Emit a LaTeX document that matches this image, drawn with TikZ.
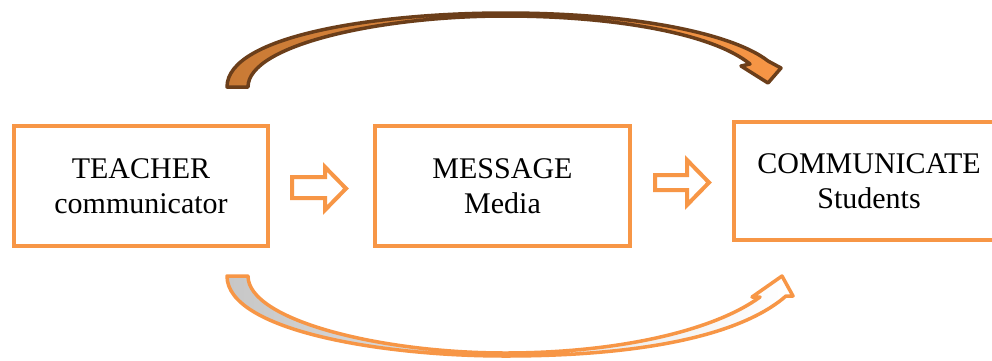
\documentclass[tikz,border=0pt]{standalone}
\usepackage{fontspec}
\setmainfont{Liberation Serif}
\definecolor{orng}{HTML}{F79646}
\definecolor{brwn}{HTML}{6B3E1A}
\definecolor{darkorng}{HTML}{C97A35}
\begin{document}
\begin{tikzpicture}[x=1pt,y=-1pt,
  boxstyle/.style={draw=orng,line width=4pt,inner sep=0pt,align=center,
    font=\fontsize{30}{35}\selectfont},
  blockarrow/.style={draw=orng,line width=4pt,fill=white,line join=miter},
  toparrow/.style={draw=brwn,line width=3.5pt,line join=round,left color=darkorng,right color=orng},
  botarrow/.style={draw=orng,line width=3.5pt,line join=round,left color=black!22,right color=white}]
\clip (0,0) rectangle (992,360);
\fill[white] (0,0) rectangle (992,360);
% boxes
\node[boxstyle,minimum width=254pt,minimum height=120pt] (teacher) at (141,186) {TEACHER\\communicator};
\node[boxstyle,minimum width=255pt,minimum height=120pt] (message) at (502.5,186) {MESSAGE\\Media};
\node[boxstyle,minimum width=270pt,minimum height=118pt] (comm) at (869,181) {COMMUNICATE\\Students};
% block arrows
\draw[blockarrow] (292,177) -- (325,177) -- (325,167) -- (346,188.5) -- (325,210) -- (325,198) -- (292,198) -- cycle;
\draw[blockarrow] (655,175) -- (687,175) -- (687,160) -- (709,182.5) -- (687,205) -- (687,190) -- (655,190) -- cycle;
% top curved arrow
\draw[toparrow] (227,87) .. controls (227,35) and (380,13) .. (505,13)
  .. controls (640,13) and (735,35) .. (768,61)
  -- (781,68) -- (768,83) -- (741,66) -- (750,64)
  .. controls (712,33) and (612,16) .. (505,16)
  .. controls (380,16) and (248,45) .. (248,87) -- cycle;
% bottom curved arrow
\draw[botarrow] (227,276) .. controls (227,330) and (380,356) .. (505,356)
  .. controls (640,356) and (740,336) .. (786,296)
  -- (793,296) -- (782,276) -- (752,297) -- (760,297)
  .. controls (715,330) and (620,353) .. (505,353)
  .. controls (380,353) and (248,320) .. (248,276) -- cycle;
\end{tikzpicture}
\end{document}
